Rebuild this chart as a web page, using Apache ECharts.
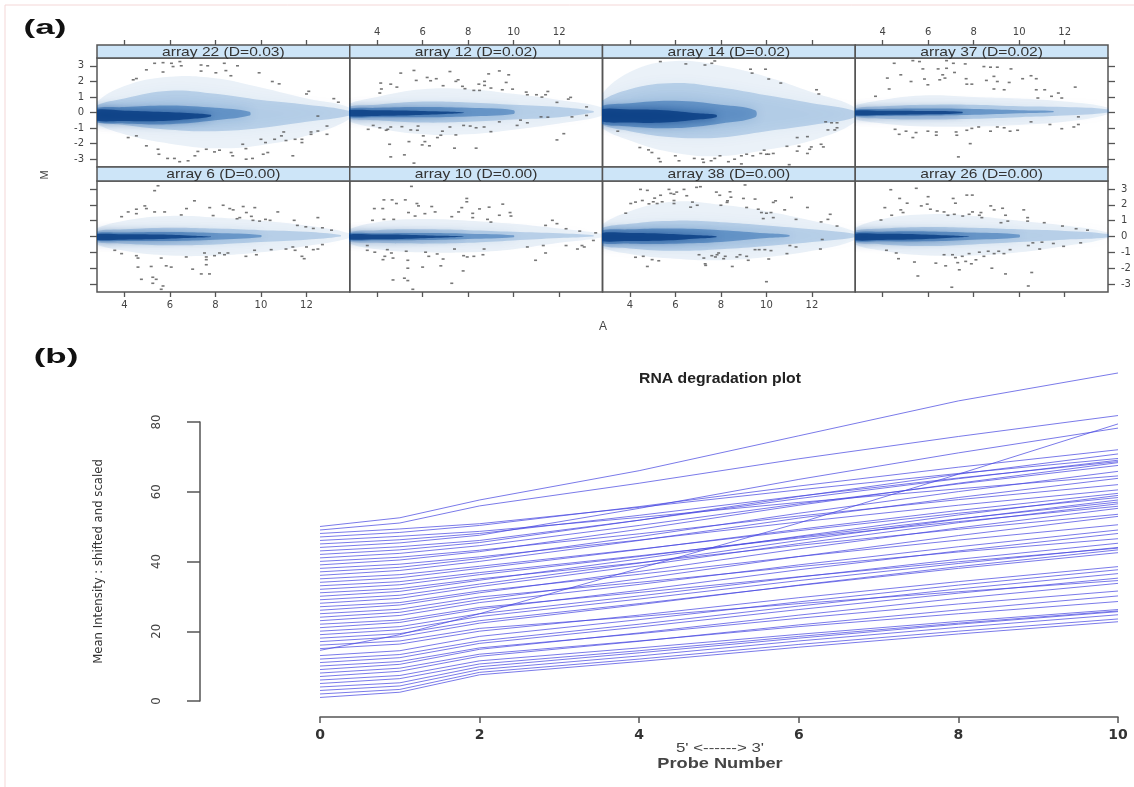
<!DOCTYPE html>
<html>
<head>
<meta charset="utf-8">
<script src="https://cdn.jsdelivr.net/npm/echarts@6/dist/echarts.min.js"></script>
<style>html,body{margin:0;padding:0;background:#fff}#c{width:1134px;height:787px}</style>
</head>
<body>
<div id="c"></div>
<script>
// ---------------- DATA ----------------
const panelTitles = ['array 22 (D=0.03)','array 12 (D=0.02)','array 14 (D=0.02)','array 37 (D=0.02)',
                     'array 6 (D=0.00)','array 10 (D=0.00)','array 38 (D=0.00)','array 26 (D=0.00)'];
const aTicks = [4, 6, 8, 10, 12];
const mTicks = [-3, -2, -1, 0, 1, 2, 3];

// density envelopes per panel: levels (faint, mid, inner, core); each [A, upperM, lowerM]
const dens22 = [
 [[2.6,0.4,-0.5],[4,1.7,-1.4],[6,2.3,-2.0],[8,2.2,-2.3],[10,1.6,-2.1],[12,0.9,-1.5],[13.9,0.3,-0.4]],
 [[2.6,0.3,-0.45],[4,0.9,-0.8],[6,1.4,-1.1],[8,1.2,-1.2],[10,0.8,-1.0],[12,0.5,-0.6],[13.9,0.1,-0.2]],
 [[2.6,0.2,-0.55],[4,0.35,-0.7],[6,0.45,-0.75],[8,0.3,-0.5],[9.5,0.05,-0.2]],
 [[2.6,0.12,-0.45],[4,0.12,-0.55],[5.5,0.05,-0.55],[7,-0.05,-0.4],[7.8,-0.15,-0.25]]];
const dens12 = [
 [[2.6,0.4,-0.4],[4,1.0,-1.0],[6,1.5,-1.4],[8,1.5,-1.4],[10,1.2,-1.1],[12,0.8,-0.7],[13.9,0.3,-0.2]],
 [[2.6,0.3,-0.3],[4,0.5,-0.5],[6,0.7,-0.65],[8,0.65,-0.6],[10,0.5,-0.45],[12,0.35,-0.3],[13.5,0.1,0]],
 [[2.6,0.2,-0.25],[4,0.3,-0.3],[6,0.35,-0.3],[8,0.3,-0.25],[10,0.15,-0.1]],
 [[2.6,0.12,-0.2],[4,0.15,-0.22],[5.5,0.12,-0.18],[7,0.06,-0.1],[7.8,0,-0.04]]];
const dens14 = [
 [[2.6,0.8,-0.7],[4,2.6,-1.8],[6,3.3,-2.6],[8,3.0,-2.8],[10,2.3,-2.4],[12,1.3,-1.8],[13.9,0.3,-0.6]],
 [[2.6,0.5,-0.6],[4,1.5,-1.2],[6,1.9,-1.6],[8,1.6,-1.6],[10,1.1,-1.2],[12,0.6,-0.8],[13.9,0.1,-0.3]],
 [[2.6,0.3,-0.6],[4,0.6,-0.9],[6,0.75,-1.0],[8,0.5,-0.7],[9.5,0.15,-0.3]],
 [[2.6,0.15,-0.5],[4,0.2,-0.65],[5.5,0.15,-0.65],[7,-0.05,-0.45],[7.8,-0.15,-0.3]]];
const dens37 = [
 [[2.6,0.3,-0.3],[4,0.8,-0.7],[6,1.1,-0.9],[8,1.0,-0.9],[10,0.9,-0.8],[12,0.7,-0.6],[13.9,0.3,-0.1]],
 [[2.6,0.2,-0.2],[4,0.4,-0.4],[6,0.5,-0.45],[8,0.5,-0.4],[10,0.4,-0.3],[12,0.35,-0.2],[13.9,0.2,0]],
 [[2.6,0.15,-0.18],[4,0.22,-0.22],[6,0.25,-0.2],[8,0.22,-0.15],[10,0.15,-0.05],[11.5,0.1,0.02]],
 [[2.6,0.1,-0.15],[4,0.12,-0.16],[6,0.1,-0.12],[7.5,0.05,-0.05]]];
const dens6 = [
 [[2.6,0.35,-0.35],[4,1.0,-0.9],[6,1.3,-1.2],[8,1.2,-1.2],[10,1.0,-1.0],[12,0.7,-0.6],[13.9,0.2,-0.1]],
 [[2.6,0.25,-0.28],[4,0.45,-0.45],[6,0.55,-0.55],[8,0.5,-0.5],[10,0.4,-0.35],[12,0.3,-0.2],[13.5,0.1,0]],
 [[2.6,0.18,-0.22],[4,0.25,-0.28],[6,0.28,-0.28],[8,0.22,-0.2],[10,0.1,-0.05]],
 [[2.6,0.12,-0.18],[4,0.14,-0.2],[5.5,0.12,-0.16],[7,0.05,-0.08],[7.8,0,-0.03]]];
const dens10 = [
 [[2.6,0.3,-0.3],[4,0.9,-0.8],[6,1.1,-1.0],[8,1.0,-1.0],[10,0.8,-0.8],[12,0.5,-0.4],[13.9,0.15,-0.05]],
 [[2.6,0.22,-0.25],[4,0.4,-0.4],[6,0.45,-0.45],[8,0.4,-0.4],[10,0.3,-0.25],[12,0.2,-0.1],[13.5,0.08,0]],
 [[2.6,0.16,-0.2],[4,0.2,-0.24],[6,0.22,-0.22],[8,0.18,-0.15],[10,0.08,-0.04]],
 [[2.6,0.1,-0.16],[4,0.12,-0.18],[5.5,0.1,-0.14],[7,0.04,-0.07],[7.8,0,-0.02]]];
const dens38 = [
 [[2.6,0.5,-0.5],[4,1.6,-1.1],[6,2.2,-1.4],[8,2.0,-1.5],[10,1.6,-1.3],[12,1.0,-0.9],[13.9,0.3,-0.2]],
 [[2.6,0.4,-0.45],[4,0.8,-0.75],[6,1.0,-0.9],[8,0.9,-0.8],[10,0.7,-0.6],[12,0.45,-0.35],[13.9,0.15,-0.05]],
 [[2.6,0.3,-0.35],[4,0.45,-0.45],[6,0.5,-0.45],[8,0.4,-0.35],[10,0.2,-0.1],[11,0.1,0]],
 [[2.6,0.18,-0.25],[4,0.22,-0.28],[5.5,0.18,-0.25],[7,0.08,-0.12],[7.8,0.02,-0.04]]];
const dens26 = [
 [[2.6,0.35,-0.35],[4,1.1,-0.9],[6,1.4,-1.2],[8,1.3,-1.2],[10,1.0,-1.0],[12,0.7,-0.6],[13.9,0.25,-0.1]],
 [[2.6,0.28,-0.3],[4,0.5,-0.5],[6,0.6,-0.6],[8,0.55,-0.5],[10,0.45,-0.35],[12,0.35,-0.2],[13.9,0.15,-0.05]],
 [[2.6,0.2,-0.25],[4,0.3,-0.3],[6,0.32,-0.3],[8,0.25,-0.2],[10,0.12,-0.06]],
 [[2.6,0.14,-0.2],[4,0.17,-0.22],[5.5,0.14,-0.18],[7,0.06,-0.08],[7.8,0,-0.02]]];

// outlying points [A, M]
const dots22 = [[4.97,2.74],[5.33,3.16],[5.7,3.2],[5.7,2.6],[6.07,3.16],[6.44,3.27],[6.5,3.0],[6.14,2.95],[7.37,3.05],[7.66,3.0],[7.37,2.66],[8.02,2.55],[8.39,3.16],[8.46,2.69],[8.68,2.36],[8.97,3.0],[9.92,2.55],[10.5,1.99],[10.8,1.84],[12.1,1.36],[12.0,1.19],[13.2,0.89],[13.4,0.66],[4.39,2.1],[4.53,2.18],[4.17,-1.61],[4.53,-1.5],[4.97,-2.14],[5.48,-2.36],[5.52,-2.68],[6.2,-2.95],[6.43,-3.16],[6.8,-3.1],[7.23,-2.5],[7.6,-2.36],[7.96,-2.53],[8.18,-2.42],[8.69,-2.57],[8.76,-2.78],[9.2,-2.04],[9.34,-2.32],[9.63,-2.95],[10.0,-1.72],[10.2,-1.93],[10.1,-2.68],[10.3,-2.57],[10.6,-1.72],[10.9,-1.5],[11.0,-1.25],[11.1,-1.8],[11.5,-1.72],[11.8,-1.93],[11.8,-1.72],[12.2,-1.4],[12.2,-1.25],[12.5,-1.19],[12.5,-0.23],[12.9,-0.87],[12.9,-1.4],[11.4,-2.78],[9.35,-3.0],[7.1,-2.78],[5.9,-2.95]];
const dots12 = [[5.04,2.53],[5.62,2.7],[4.16,1.89],[4.19,1.51],[4.12,1.25],[4.6,1.82],[4.87,1.63],[5.72,2.06],[6.2,2.25],[6.35,2.04],[6.6,2.17],[7.2,2.63],[6.9,1.72],[7.46,2.0],[7.56,2.1],[7.75,1.68],[7.86,1.53],[8.25,1.42],[8.5,1.42],[8.47,1.82],[8.72,2.0],[8.72,1.74],[8.9,2.48],[9.0,1.57],[9.37,2.67],[9.5,1.46],[9.67,1.93],[9.78,2.42],[9.95,1.5],[10.55,1.31],[10.6,1.14],[11.0,1.14],[11.24,0.99],[11.4,1.14],[11.5,1.35],[11.9,0.65],[12.5,0.97],[12.4,0.86],[13.2,0.36],[13.2,-0.19],[12.56,-0.28],[11.2,-0.28],[11.5,-0.3],[10.3,-0.49],[10.6,-0.66],[10.15,-0.83],[9.37,-0.6],[9.0,-1.23],[8.7,-0.93],[8.35,-0.98],[8.09,-0.87],[7.8,-0.83],[7.46,-1.44],[7.2,-0.93],[6.87,-1.2],[6.8,-1.46],[6.65,-1.61],[6.03,-1.5],[6.1,-1.87],[5.8,-0.87],[5.48,-1.12],[5.77,-1.14],[5.09,-0.91],[4.6,-0.93],[4.47,-1.08],[4.12,-0.98],[3.83,-0.83],[3.61,-1.08],[4.4,-1.14],[4.55,-2.04],[5.4,-1.87],[5.98,-2.08],[6.3,-2.14],[4.6,-2.85],[5.2,-2.72],[5.62,-3.25],[7.4,-2.29],[8.35,-2.29],[11.9,-1.76],[12.2,-1.36]];
const dots14 = [[5.34,3.27],[6.46,3.12],[7.3,3.05],[7.6,3.16],[7.73,3.31],[9.3,2.78],[9.37,2.53],[9.96,2.78],[10.1,2.15],[10.63,1.89],[12.2,1.46],[12.3,1.19],[12.6,-0.6],[13.1,-0.66],[12.7,-1.12],[13.0,-1.12],[3.47,-1.2],[4.44,-2.25],[4.82,-2.4],[4.97,-2.57],[5.27,-2.95],[5.34,-3.16],[6.16,-3.1],[6.83,-2.95],[7.2,-3.0],[7.24,-3.2],[7.57,-3.1],[7.73,-2.95],[7.96,-2.78],[8.33,-3.16],[8.6,-3.0],[8.9,-2.78],[9.13,-2.68],[9.4,-2.78],[9.75,-2.63],[9.9,-2.42],[10.0,-2.68],[10.1,-2.68],[10.3,-2.63],[10.9,-2.17],[11.35,-2.48],[11.43,-2.17],[11.8,-2.63],[11.9,-2.36],[11.97,-2.21],[12.4,-2.04],[12.5,-2.21],[11.8,-1.55],[11.35,-1.61],[12.86,-0.66],[13.1,-0.98],[8.9,-3.3],[11.0,-3.35],[6.0,-2.78]];
const dots37 = [[4.51,3.16],[5.33,3.33],[5.62,3.27],[6.81,3.33],[7.11,3.16],[5.77,2.8],[6.44,2.8],[6.81,2.84],[7.63,3.12],[8.45,2.95],[8.74,2.91],[9.04,2.91],[9.64,2.8],[7.16,2.57],[6.64,2.42],[6.74,2.21],[4.21,2.21],[4.8,2.42],[5.25,1.99],[5.84,2.15],[5.99,1.78],[6.51,2.1],[7.67,2.17],[7.7,1.82],[7.92,1.82],[8.56,2.06],[8.89,2.32],[9.04,1.99],[9.56,1.93],[10.15,2.17],[10.52,2.36],[10.75,2.17],[8.89,1.51],[9.34,1.46],[10.75,1.46],[11.12,1.46],[11.72,1.25],[12.46,1.63],[11.42,1.04],[11.87,0.93],[10.82,0.93],[4.29,1.51],[3.69,1.04],[12.6,-0.28],[12.6,-0.77],[12.4,-0.93],[11.87,-1.04],[11.35,-0.77],[10.52,-0.6],[9.93,-1.14],[9.6,-1.2],[9.34,-0.98],[9.04,-0.93],[8.74,-1.2],[8.22,-0.93],[7.92,-1.02],[7.7,-1.14],[7.23,-1.25],[7.26,-1.46],[6.36,-1.25],[6.36,-1.46],[5.99,-1.2],[5.47,-1.29],[5.03,-1.2],[4.73,-1.4],[5.33,-1.61],[4.55,-1.08],[7.85,-2.0],[7.33,-2.85]];
const dots6 = [[5.33,2.89],[5.48,3.2],[7.08,2.25],[4.9,1.93],[4.53,1.72],[4.17,1.55],[4.53,1.44],[3.88,1.25],[4.97,1.76],[5.33,1.55],[5.77,1.55],[6.5,1.36],[6.73,1.76],[7.75,1.82],[8.34,1.97],[8.63,1.76],[8.78,1.68],[9.22,1.89],[9.73,1.82],[9.36,1.51],[8.95,1.12],[9.07,1.19],[9.65,1.02],[9.94,0.97],[10.2,1.08],[10.4,1.02],[10.74,1.55],[9.58,1.27],[7.9,1.32],[11.46,1.02],[11.6,0.7],[11.97,0.61],[12.3,0.51],[12.5,1.19],[12.7,0.55],[13.1,0.4],[3.58,-0.87],[3.88,-1.08],[4.53,-1.21],[4.6,-1.36],[5.62,-1.36],[6.72,-1.29],[7.52,-1.04],[7.6,-1.29],[7.6,-1.46],[7.6,-1.78],[7.96,-1.21],[8.18,-1.04],[8.4,-1.15],[8.55,-1.04],[9.34,-1.25],[9.8,-1.15],[9.72,-0.87],[10.45,-0.83],[11.1,-0.79],[11.4,-0.66],[11.5,-0.87],[11.8,-1.25],[11.9,-1.4],[12.0,-0.66],[12.3,-0.83],[12.5,-0.79],[12.7,-0.51],[4.6,-1.93],[5.18,-1.89],[5.84,-1.85],[6.06,-1.93],[7.0,-2.06],[7.38,-2.36],[7.74,-2.36],[4.75,-2.7],[5.25,-2.57],[5.4,-2.7],[5.25,-2.95],[5.7,-3.12],[5.62,-3.33]];
const dots10 = [[5.51,3.16],[4.3,2.31],[4.66,2.31],[4.85,2.08],[5.24,2.31],[3.88,1.76],[4.25,1.76],[5.38,1.51],[5.67,1.29],[5.75,2.08],[5.82,1.93],[6.1,1.44],[6.4,1.89],[6.55,1.55],[7.28,1.25],[7.58,1.55],[7.94,2.4],[7.94,2.19],[7.72,1.82],[8.2,1.46],[8.2,1.19],[8.5,1.74],[8.92,1.85],[8.85,1.08],[9.0,0.91],[9.37,1.34],[9.52,2.04],[9.84,1.51],[9.88,1.29],[3.8,1.02],[4.3,1.08],[4.73,1.08],[11.4,0.7],[11.7,1.02],[11.9,0.81],[12.3,0.49],[12.9,0.34],[13.6,0.23],[13.5,-0.25],[13.1,-0.66],[12.8,-0.79],[13.0,-0.57],[12.3,-0.57],[11.3,-0.57],[11.4,-1.04],[10.96,-1.5],[10.6,-0.66],[8.65,-1.15],[8.7,-0.79],[8.25,-1.25],[7.8,-1.21],[7.96,-1.29],[7.4,-0.79],[6.64,-1.1],[6.13,-0.99],[6.27,-1.25],[6.9,-1.42],[6.8,-1.85],[6.0,-1.93],[5.35,-1.5],[5.28,-0.93],[4.63,-1.04],[4.45,-0.83],[4.34,-1.25],[4.7,-1.36],[4.26,-1.46],[3.9,-0.99],[3.57,-0.87],[3.57,-0.57],[5.35,-2.0],[7.78,-2.17],[4.7,-2.74],[5.2,-2.63],[5.35,-2.78],[7.28,-2.95],[5.57,-3.33]];
const dots38 = [[3.82,1.47],[4.04,2.08],[4.25,2.17],[4.47,2.97],[4.77,2.91],[4.55,2.27],[4.84,2.06],[5.03,2.19],[5.09,2.42],[5.2,2.08],[5.35,2.6],[5.42,2.19],[5.72,2.97],[5.8,2.72],[5.94,2.67],[5.94,2.27],[5.94,2.08],[6.06,2.8],[6.38,2.97],[6.5,2.57],[6.75,2.17],[6.93,3.1],[7.1,3.14],[6.96,1.97],[6.67,1.85],[7.8,2.8],[7.95,2.6],[8.27,2.15],[8.44,2.48],[8.0,1.97],[4.25,-1.31],[4.59,-1.25],[4.98,-1.46],[5.27,-1.53],[4.77,-1.89],[7.04,-1.15],[7.25,-1.36],[7.76,-1.29],[7.83,-1.15],[8.12,-1.4],[7.33,-1.82],[8.4,2.82],[9.06,3.25],[8.29,2.25],[8.99,2.4],[9.5,2.36],[9.13,1.83],[9.64,1.72],[9.78,1.51],[10.0,1.47],[10.2,1.51],[10.3,2.15],[10.4,2.25],[9.86,1.13],[10.3,1.19],[10.8,1.68],[11.1,2.46],[11.3,1.08],[11.8,1.83],[12.4,0.92],[12.8,1.4],[12.7,1.08],[13.1,0.66],[12.45,-0.19],[12.37,-0.79],[11.03,-0.57],[11.3,-0.66],[10.9,-1.08],[9.93,-0.83],[10.2,-0.89],[9.68,-0.83],[9.5,-0.83],[9.13,-1.25],[9.2,-1.5],[8.84,-1.15],[8.7,-1.29],[8.19,-1.25],[7.9,-1.04],[7.6,-1.21],[7.31,-1.72],[8.5,-1.89],[10.1,-1.42],[10.0,-2.85]];
const dots26 = [[4.36,2.95],[5.48,3.04],[4.75,2.4],[5.08,2.1],[4.1,1.82],[3.93,1.04],[4.4,1.34],[4.8,1.68],[4.9,1.51],[5.7,1.93],[5.96,2.04],[6.1,1.72],[6.4,1.61],[6.7,1.55],[6.0,2.51],[7.1,2.4],[7.2,2.1],[7.7,2.61],[7.94,2.61],[6.87,1.34],[7.15,1.4],[7.52,1.29],[7.8,1.4],[7.95,1.55],[8.25,1.34],[8.32,1.51],[8.36,1.19],[8.75,1.93],[8.9,1.68],[9.27,1.78],[9.4,1.34],[9.2,0.87],[9.5,0.97],[10.2,1.68],[10.37,1.19],[10.37,0.97],[11.1,0.87],[11.9,0.66],[12.5,0.49],[13.0,0.4],[10.4,-0.57],[10.6,-0.4],[11.0,-0.36],[10.9,-0.79],[11.5,-0.44],[11.95,-0.62],[12.7,-0.4],[4.17,-0.87],[4.6,-1.04],[4.7,-1.4],[5.4,-1.61],[5.55,-2.49],[6.34,-1.68],[6.7,-1.15],[6.77,-1.85],[7.07,-1.15],[7.2,-1.33],[7.3,-1.65],[7.37,-2.1],[7.5,-1.25],[7.65,-1.57],[7.8,-1.08],[7.9,-1.72],[8.1,-1.47],[8.25,-0.99],[8.45,-1.25],[8.64,-0.93],[8.9,-1.08],[9.1,-0.93],[9.33,-1.08],[9.6,-0.83],[8.8,-2.0],[9.4,-2.36],[10.55,-2.27],[7.04,-3.2],[10.4,-3.12]];

const panelDens = [dens22, dens12, dens14, dens37, dens6, dens10, dens38, dens26];
const panelDots = [dots22, dots12, dots14, dots37, dots6, dots10, dots38, dots26];

// RNA degradation plot
const probeNumbers = [0, 1, 2, 4, 6, 8, 10];
const rnaIntensity = [
 [1, 2.5, 7.5, 11.3, 15.4, 19.2, 22.7],
 [2, 3.3, 8.2, 12.0, 16.2, 20.0, 23.5],
 [3, 4.3, 9.0, 12.9, 17.2, 21.1, 24.7],
 [4, 5.2, 9.8, 13.8, 18.0, 22.0, 25.6],
 [5, 6.4, 10.6, 14.4, 18.5, 22.3, 25.8],
 [6, 7.3, 11.5, 15.2, 19.1, 22.8, 26.2],
 [7, 8.5, 12.8, 17.1, 21.8, 26.1, 30.1],
 [8, 9.4, 13.4, 17.2, 21.3, 25.0, 28.5],
 [9, 10.5, 14.8, 19.5, 24.6, 29.4, 33.7],
 [10, 11.3, 15.2, 19.3, 23.7, 27.8, 31.5],
 [11, 12.4, 16.5, 21.2, 26.2, 30.9, 35.2],
 [12, 13.3, 17.2, 22.0, 27.2, 32.1, 36.5],
 [13, 14.4, 18.5, 23.3, 28.4, 33.2, 37.6],
 [14.5, 19.0, 25.0, 38.0, 51.0, 65.0, 79.4],
 [15, 16.3, 20.0, 24.6, 29.6, 34.2, 38.5],
 [16, 17.2, 20.8, 24.2, 27.9, 31.3, 34.5],
 [17, 18.4, 22.3, 27.6, 33.2, 38.5, 43.3],
 [18, 19.3, 23.0, 27.9, 33.1, 38.0, 42.5],
 [19, 20.4, 24.2, 29.2, 34.5, 39.4, 44.0],
 [20, 21.3, 25.0, 30.1, 35.5, 40.6, 45.2],
 [21, 22.5, 26.3, 31.7, 37.6, 43.0, 48.0],
 [22, 23.2, 26.8, 31.1, 35.6, 39.9, 43.8],
 [23, 24.5, 28.2, 33.4, 39.0, 44.2, 49.0],
 [24, 25.4, 29.0, 35.0, 41.4, 47.4, 52.9],
 [25, 26.3, 29.8, 34.0, 38.5, 42.7, 46.5],
 [26, 27.5, 31.0, 37.1, 43.6, 49.6, 55.2],
 [27, 28.2, 31.5, 36.3, 41.4, 46.1, 50.5],
 [28, 29.4, 32.8, 38.7, 45.1, 51.1, 56.5],
 [29, 30.3, 33.5, 39.5, 46.0, 52.1, 57.6],
 [30, 31.4, 34.6, 40.7, 47.2, 53.3, 58.9],
 [31, 32.2, 35.0, 39.6, 44.6, 49.2, 53.5],
 [32, 33.3, 36.2, 41.4, 47.0, 52.2, 57.0],
 [33, 34.2, 36.8, 41.6, 46.7, 51.4, 55.8],
 [34, 35.3, 38.0, 43.4, 49.2, 54.6, 59.5],
 [35, 36.2, 38.6, 43.5, 48.8, 53.8, 58.3],
 [36, 37.4, 40.0, 46.0, 52.4, 58.3, 63.8],
 [37, 38.3, 40.8, 47.1, 53.8, 60.0, 65.8],
 [38, 39.2, 41.3, 46.1, 51.3, 56.1, 60.5],
 [39, 40.4, 42.8, 49.2, 56.1, 62.4, 68.3],
 [40, 41.2, 43.2, 47.9, 53.0, 57.7, 62.0],
 [41, 42.3, 44.5, 50.3, 56.5, 62.2, 67.5],
 [42, 43.3, 45.4, 51.8, 58.6, 65.0, 70.8],
 [43, 44.2, 46.0, 51.8, 58.0, 63.7, 69.0],
 [44, 45.3, 47.5, 55.2, 63.5, 71.1, 78.2],
 [45, 46.2, 48.0, 53.2, 58.7, 63.9, 68.6],
 [46, 47.2, 48.6, 52.6, 56.9, 60.8, 64.5],
 [47, 48.3, 50.3, 55.7, 61.6, 67.0, 72.0],
 [48, 49.3, 50.8, 55.5, 60.5, 65.2, 69.5],
 [49, 51.0, 55.9, 62.4, 69.4, 75.8, 81.8],
 [50, 52.5, 57.6, 66.0, 76.0, 86.0, 94.0]
];

// ---------------- LAYOUT ----------------
const colEdges = [97, 349.75, 602.5, 855.25, 1108];
const rows = [{strip: 45, top: 58, bottom: 167}, {strip: 167, top: 181, bottom: 292}];
const densColors = ['rgba(30,110,190,0.09)', 'rgba(25,100,180,0.22)', 'rgba(15,85,165,0.42)', 'rgba(8,60,130,0.8)'];
const densBlur = [18, 14, 11, 8];
const sansFont = "'Liberation Sans', Arial, sans-serif";
const narrowFont = "'Liberation Sans Narrow', 'DejaVu Sans Condensed', 'Liberation Sans', sans-serif";
const tickFont = "'DejaVu Sans', sans-serif";
const noLine = {show: false, onZero: false};

const grids = [], xAxes = [], yAxes = [], series = [], graphics = [];

for (let p = 0; p < 8; p++) {
  const r = Math.floor(p / 4), c = p % 4;
  const left = colEdges[c], width = colEdges[c + 1] - colEdges[c];
  const R = rows[r];
  grids.push({left: left, top: R.top, width: width, height: R.bottom - R.top,
    show: true, borderColor: '#555', borderWidth: 1.5, containLabel: false});
  const mkX = (pos) => {
    let ticks = false, labels = false;
    if (pos === 'bottom' && r === 1) { ticks = true; labels = (c % 2 === 0); }
    return {type: 'value', gridIndex: p, position: pos, min: 2.8, max: 13.9,
      axisLine: noLine, splitLine: {show: false},
      axisTick: {show: ticks, customValues: aTicks, length: 5, lineStyle: {color: '#555', width: 1.3}},
      axisLabel: {show: labels, customValues: aTicks, fontSize: 10, color: '#444', margin: 8, fontFamily: tickFont}};
  };
  xAxes.push(mkX('bottom'), mkX('top'));
  const mkY = (pos) => {
    let ticks = false, labels = false;
    if (pos === 'left' && c === 0) { ticks = true; labels = (r === 0); }
    if (pos === 'right' && c === 3) { ticks = true; labels = (r === 1); }
    return {type: 'value', gridIndex: p, position: pos, min: -3.5, max: 3.5,
      axisLine: noLine, splitLine: {show: false},
      axisTick: {show: ticks, customValues: mTicks, length: 7, lineStyle: {color: '#555', width: 1.3}},
      axisLabel: {show: labels, customValues: mTicks, fontSize: 10, color: '#444', margin: 13, fontFamily: tickFont}};
  };
  yAxes.push(mkY('left'), mkY('right'));

  const levels = panelDens[p];
  series.push({
    type: 'custom', xAxisIndex: 2 * p, yAxisIndex: 2 * p, clip: true, silent: true,
    data: levels.map(l => [l[1][0], l[1][1]]),
    renderItem: (params, api) => {
      const lvl = levels[params.dataIndex];
      const pts = [];
      for (let i = 0; i < lvl.length; i++) pts.push(api.coord([lvl[i][0], lvl[i][1]]));
      for (let i = lvl.length - 1; i >= 0; i--) pts.push(api.coord([lvl[i][0], lvl[i][2]]));
      const col = densColors[params.dataIndex];
      return {type: 'polygon', shape: {points: pts, smooth: 0.4},
        style: {fill: col, shadowBlur: densBlur[params.dataIndex], shadowColor: col}};
    }
  });
  series.push({
    type: 'scatter', xAxisIndex: 2 * p, yAxisIndex: 2 * p, clip: true, silent: true,
    symbol: 'rect', symbolSize: [3, 1.6], itemStyle: {color: '#555'},
    data: panelDots[p], z: 5
  });

  // strip
  graphics.push({type: 'rect', shape: {x: left, y: R.strip, width: width, height: R.top - R.strip},
    style: {fill: '#cde5f8', stroke: '#555', lineWidth: 1.5}, z: 10});
  graphics.push({type: 'text', x: left + width / 2, y: R.strip + (R.top - R.strip) / 2 + 0.5, scaleX: 1.2,
    style: {text: panelTitles[p], fontSize: 13, fill: '#333', fontFamily: sansFont,
      align: 'center', verticalAlign: 'middle'}, z: 11});
}

// RNA degradation: data grid (index 8) and y display grid (index 9)
grids.push({left: 320, right: 16, top: 366, bottom: 70, show: false});
grids.push({left: 200, top: 422, width: 20, height: 279, show: false});
xAxes.push({type: 'value', gridIndex: 8, min: 0, max: 10, interval: 2,
  axisLine: {show: true, onZero: false, lineStyle: {color: '#555', width: 1.5}},
  axisTick: {show: true, length: 6, lineStyle: {color: '#555', width: 1.5}},
  splitLine: {show: false},
  axisLabel: {fontSize: 14, color: '#333', margin: 11, fontWeight: 'bold', fontFamily: tickFont}});
xAxes.push({type: 'value', gridIndex: 9, show: false, min: 0, max: 1});
yAxes.push({type: 'value', gridIndex: 8, show: false, min: -4.6, max: 96});
yAxes.push({type: 'value', gridIndex: 9, min: 0, max: 80, interval: 20,
  axisLine: {show: true, onZero: false, lineStyle: {color: '#555', width: 1.5}},
  axisTick: {show: true, length: 13, lineStyle: {color: '#555', width: 1.5}},
  splitLine: {show: false},
  axisLabel: {rotate: 90, fontSize: 13, color: '#444', margin: 37, fontFamily: narrowFont},
  name: 'Mean Intensity : shifted and scaled', nameLocation: 'middle', nameRotate: 90, nameGap: 95,
  nameTextStyle: {fontSize: 13, color: '#333', fontFamily: narrowFont}});

// top tick axes of the first row sit above the strips: helper grids 10..13 spanning strip + panel
for (let c = 0; c < 4; c++) {
  const left = colEdges[c], width = colEdges[c + 1] - colEdges[c];
  grids.push({left: left, top: rows[0].strip, width: width, height: rows[0].bottom - rows[0].strip, show: false});
  xAxes.push({type: 'value', gridIndex: 10 + c, position: 'top', min: 2.8, max: 13.9,
    axisLine: noLine, splitLine: {show: false},
    axisTick: {show: true, customValues: aTicks, length: 5, lineStyle: {color: '#555', width: 1.3}},
    axisLabel: {show: c % 2 === 1, customValues: aTicks, fontSize: 10, color: '#444', margin: 8, fontFamily: tickFont}});
  yAxes.push({type: 'value', gridIndex: 10 + c, show: false, min: 0, max: 1, axisLine: noLine});
}

rnaIntensity.forEach((vals) => {
  series.push({type: 'line', xAxisIndex: 16, yAxisIndex: 16, silent: true, symbol: 'none',
    lineStyle: {color: 'rgba(70,70,225,0.72)', width: 1},
    data: probeNumbers.map((x, k) => [x, vals[k]])});
});

// texts
graphics.push({type: 'text', x: 45, y: 28, scaleX: 1.75,
  style: {text: '(a)', fontSize: 20, fontWeight: 'bold', fill: '#111', fontFamily: sansFont, align: 'center', verticalAlign: 'middle'}});
graphics.push({type: 'text', x: 56, y: 357, scaleX: 1.75,
  style: {text: '(b)', fontSize: 20, fontWeight: 'bold', fill: '#111', fontFamily: sansFont, align: 'center', verticalAlign: 'middle'}});
graphics.push({type: 'text', x: 45, y: 175, rotation: Math.PI / 2,
  style: {text: 'M', fontSize: 11, fill: '#444', fontFamily: sansFont, align: 'center', verticalAlign: 'middle'}});
graphics.push({type: 'text', x: 603, y: 327,
  style: {text: 'A', fontSize: 12, fill: '#444', fontFamily: sansFont, align: 'center', verticalAlign: 'middle'}});
graphics.push({type: 'text', x: 720, y: 379, scaleX: 1.05,
  style: {text: 'RNA degradation plot', fontSize: 15, fontWeight: 'bold', fill: '#222', fontFamily: sansFont, align: 'center', verticalAlign: 'middle'}});
graphics.push({type: 'text', x: 720, y: 748, scaleX: 1.3,
  style: {text: "5' <------> 3'", fontSize: 13, fill: '#444', fontFamily: sansFont, align: 'center', verticalAlign: 'middle'}});
graphics.push({type: 'text', x: 720, y: 764, scaleX: 1.3,
  style: {text: 'Probe Number', fontSize: 14, fontWeight: 'bold', fill: '#444', fontFamily: sansFont, align: 'center', verticalAlign: 'middle'}});
// frame lines of the figure
graphics.push({type: 'line', shape: {x1: 5, y1: 5, x2: 1134, y2: 5}, style: {stroke: '#f4d7d7', lineWidth: 1}});
graphics.push({type: 'line', shape: {x1: 5, y1: 5, x2: 5, y2: 787}, style: {stroke: '#f4d7d7', lineWidth: 1}});

const chart = echarts.init(document.getElementById('c'), null, {renderer: 'canvas'});
chart.setOption({
  animation: false,
  backgroundColor: '#fff',
  grid: grids, xAxis: xAxes, yAxis: yAxes, series: series, graphic: graphics
});
</script>
</body>
</html>
